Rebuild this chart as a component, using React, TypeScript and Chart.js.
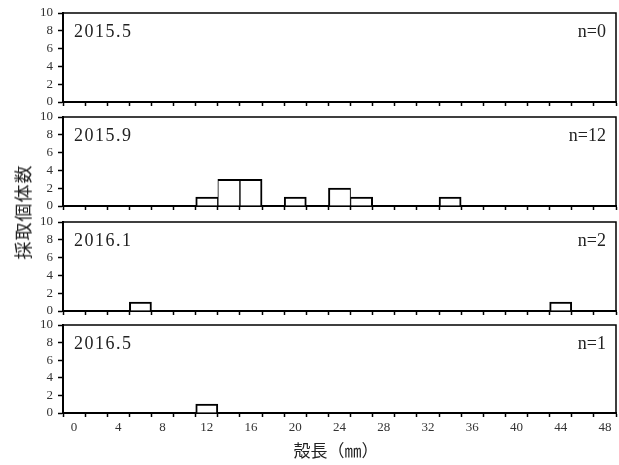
import React, { useEffect, useRef } from "react";
import { Chart, registerables } from "chart.js";

Chart.register(...registerables);

// ---- data ----
const sizeClasses = ["0", "2", "4", "6", "8", "10", "12", "14", "16", "18", "20", "22", "24", "26", "28", "30", "32", "34", "36", "38", "40", "42", "44", "46", "48"];
const panelLabels = ["2015.5", "2015.9", "2016.1", "2016.5"];
const sampleSizes = ["n=0", "n=12", "n=2", "n=1"];
const counts2015May = [0, 0, 0, 0, 0, 0, 0, 0, 0, 0, 0, 0, 0, 0, 0, 0, 0, 0, 0, 0, 0, 0, 0, 0, 0];
const counts2015Sep = [0, 0, 0, 0, 0, 0, 1, 3, 3, 0, 1, 0, 2, 1, 0, 0, 0, 1, 0, 0, 0, 0, 0, 0, 0];
const counts2016Jan = [0, 0, 0, 1, 0, 0, 0, 0, 0, 0, 0, 0, 0, 0, 0, 0, 0, 0, 0, 0, 0, 0, 1, 0, 0];
const counts2016May = [0, 0, 0, 0, 0, 0, 1, 0, 0, 0, 0, 0, 0, 0, 0, 0, 0, 0, 0, 0, 0, 0, 0, 0, 0];
const panelSeries = [counts2015May, counts2015Sep, counts2016Jan, counts2016May];
const yMin = 0;
const yMax = 10;
const yStep = 2;
const yTitle = "採取個体数";
const xTitle = "殻長（㎜）";

const SERIF = "'Liberation Serif', 'DejaVu Serif', serif";
const CJK = "'Noto Sans CJK JP', sans-serif";

const W = 619;
const PLOT_LEFT = 63;
const PLOT_RIGHT = 616;
const PAD_TOP = 16;
const panelTops = [13, 117, 222, 325];
const panelBottoms = [102, 206, 311, 413];

function Panel({ idx }: { idx: number }) {
  const ref = useRef<HTMLCanvasElement | null>(null);
  const isLast = idx === panelSeries.length - 1;
  const plotH = panelBottoms[idx] - panelTops[idx];
  const xAxisH = isLast ? 30 : 16;
  const canvasH = PAD_TOP + plotH + xAxisH;

  useEffect(() => {
    if (!ref.current) return;
    const series = panelSeries[idx];
    const framePlugin = {
      id: "frame" + idx,
      afterDraw(chart: any) {
        const { ctx, chartArea } = chart;
        const { left, right, top, bottom } = chartArea;
        ctx.save();
        ctx.strokeStyle = "#000";
        ctx.lineWidth = 1.5;
        ctx.beginPath();
        ctx.moveTo(left, top);
        ctx.lineTo(right, top);
        ctx.lineTo(right, bottom);
        ctx.stroke();
        ctx.fillStyle = "#222";
        ctx.font = "18px " + SERIF;
        ctx.textBaseline = "middle";
        ctx.textAlign = "left";
        try {
          ctx.letterSpacing = "1.5px";
        } catch (e) {}
        ctx.fillText(panelLabels[idx], left + 11, top + 19);
        try {
          ctx.letterSpacing = "0px";
        } catch (e) {}
        ctx.textAlign = "right";
        ctx.fillText(sampleSizes[idx], right - 10, top + 19);
        ctx.restore();
      },
    };
    const chart = new Chart(ref.current, {
      type: "bar",
      data: {
        labels: sizeClasses,
        datasets: [
          {
            data: series.map((v) => (v === 0 ? null : v)),
            backgroundColor: "#fff",
            borderColor: "#000",
            borderWidth: (c: any) => {
              const i = c.dataIndex;
              const hasL = i > 0 && series[i - 1] > 0;
              const hasR = i < series.length - 1 && series[i + 1] > 0;
              return { top: 2, left: hasL ? 1 : 2, right: hasR ? 1 : 2, bottom: 0 };
            },
            borderSkipped: "start",
            barPercentage: 1,
            categoryPercentage: 1,
          },
        ],
      },
      options: {
        animation: false,
        responsive: false,
        maintainAspectRatio: false,
        layout: { padding: { top: PAD_TOP, left: 0, right: W - PLOT_RIGHT, bottom: 0 } },
        plugins: { legend: { display: false }, tooltip: { enabled: false } },
        scales: {
          x: {
            type: "category",
            offset: true,
            afterFit: (s: any) => {
              s.height = xAxisH;
            },
            grid: {
              offset: true,
              drawOnChartArea: false,
              drawTicks: true,
              tickLength: 4,
              tickWidth: 1.5,
              tickColor: "#000",
            },
            border: { display: true, color: "#000", width: 2 },
            ticks: {
              display: isLast,
              autoSkip: false,
              maxRotation: 0,
              padding: 3,
              color: "#333",
              font: { family: SERIF, size: 13 },
              callback: (_v: any, i: number) => (i % 2 === 0 ? sizeClasses[i] : ""),
            },
          },
          y: {
            min: yMin,
            max: yMax,
            afterFit: (s: any) => {
              s.width = PLOT_LEFT;
            },
            grid: {
              drawOnChartArea: false,
              drawTicks: true,
              tickLength: 5,
              tickWidth: 1.5,
              tickColor: "#000",
            },
            border: { display: true, color: "#000", width: 2 },
            ticks: {
              stepSize: yStep,
              autoSkip: false,
              padding: 5,
              color: "#333",
              font: { family: SERIF, size: 13 },
            },
          },
        },
      },
      plugins: [framePlugin],
    });
    return () => chart.destroy();
  }, [idx]);

  return (
    <canvas
      ref={ref}
      width={W}
      height={canvasH}
      style={{ position: "absolute", left: 0, top: panelTops[idx] - PAD_TOP, width: W, height: canvasH }}
    />
  );
}

export default function App() {
  return (
    <div style={{ position: "fixed", left: 0, top: 0, width: W, height: 465, background: "#fff", overflow: "hidden" }}>
      {panelSeries.map((_, i) => (
        <Panel key={i} idx={i} />
      ))}
      <div
        style={{
          position: "absolute",
          left: 22,
          top: 212,
          transform: "translate(-50%, -50%) rotate(-90deg)",
          fontFamily: CJK,
          fontSize: 18,
          lineHeight: "20px",
          letterSpacing: 1,
          whiteSpace: "nowrap",
          color: "#222",
        }}
      >
        {yTitle}
      </div>
      <div
        style={{
          position: "absolute",
          left: 336,
          top: 450,
          transform: "translate(-50%, -50%)",
          fontFamily: CJK,
          fontSize: 17,
          lineHeight: "20px",
          whiteSpace: "nowrap",
          color: "#222",
        }}
      >
        {xTitle}
      </div>
    </div>
  );
}
